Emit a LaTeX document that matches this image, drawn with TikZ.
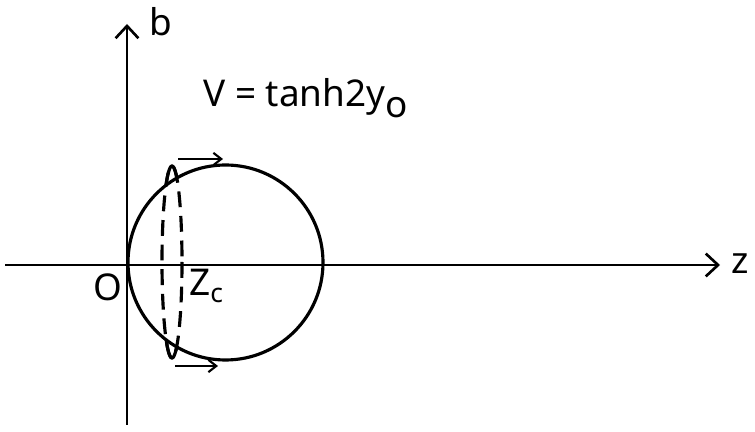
\documentclass[tikz,border=0pt]{standalone}
\usepackage{fontspec}
\setsansfont{Noto Sans}
\usetikzlibrary{arrows.meta,positioning}

\tikzset{
  axis/.style={line width=1.5pt,-{Straight Barb[length=7pt,width=13pt,line width=1.5pt]}},
  lbl/.style={font=\sffamily\fontsize{21}{24}\selectfont,inner sep=0pt},
  sphere/.style={line width=1.8pt},
  spin/.style={line width=1.2pt,-{Straight Barb[length=4.5pt,width=7pt]}}
}

\begin{document}
\begin{tikzpicture}[x=0.02cm,y=-0.02cm]
  \useasboundingbox (0,0) rectangle (755,432);
  % axes
  \coordinate (zstart) at (5,265);
  \coordinate (zend) at (720,265);
  \coordinate (bstart) at (127,425);
  \coordinate (bend) at (127,24);
  \draw[axis] (zstart) -- (zend);
  \draw[axis] (bstart) -- (bend);
  \node[lbl,anchor=west] (zlab) at (731,264) {z};
  \node[lbl,anchor=base west] (blab) at (149,36) {b};
  \node[lbl] (olab) at (108,287) {O};
  % sphere and ring
  \coordinate (C) at (225.5,262.5);
  \draw[sphere] (C) circle[radius=97.5];
  \coordinate (ring) at (172,262);
  \draw[line width=1.8pt,dash pattern=on 9pt off 5pt] (ring) ellipse[x radius=10,y radius=96];
  \begin{scope}[even odd rule]
    \clip (0,0) rectangle (755,432) (225.5,262.5) circle (97.5);
    \draw[line width=1.8pt] (ring) ellipse[x radius=10,y radius=96];
  \end{scope}
  \node[lbl,anchor=west] (zc) at (189,286) {Z\raisebox{-0.35ex}{\fontsize{15}{16}\selectfont c}};
  % velocity
  \coordinate (t1) at (178,159);
  \coordinate (t2) at (223,159);
  \coordinate (u1) at (175,366);
  \coordinate (u2) at (218,366);
  \draw[spin] (t1) -- (t2);
  \draw[spin] (u1) -- (u2);
  \node[lbl,anchor=base west] (vlab) at (203,107) {V = tanh2y\raisebox{-0.55ex}{o}};
\end{tikzpicture}
\end{document}
